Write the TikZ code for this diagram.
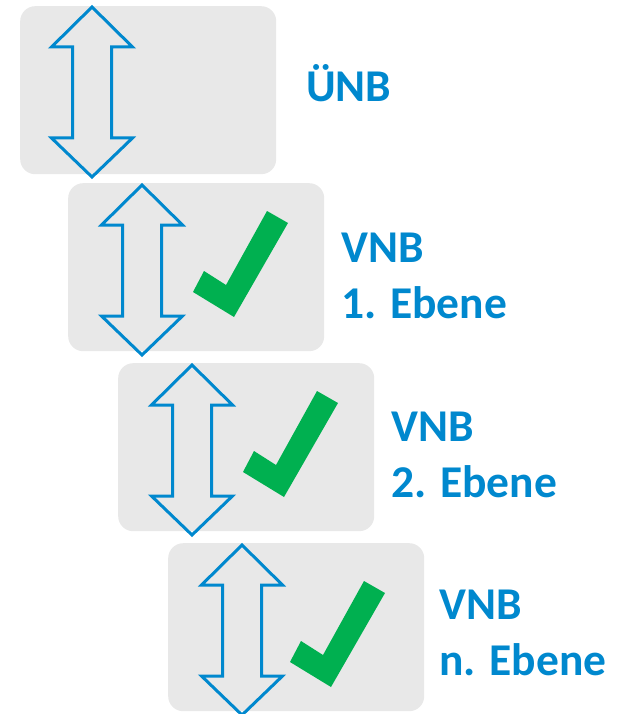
\documentclass[tikz,border=0pt]{standalone}
\usepackage{fontspec}
\setmainfont{Carlito}
\definecolor{netblue}{RGB}{0,136,206}
\definecolor{tickgreen}{RGB}{0,176,80}
\definecolor{boxgray}{RGB}{232,232,232}
\tikzset{
  stagebox/.style={fill=boxgray, draw=none, rounded corners=15pt,
    minimum width=256pt, minimum height=168pt, inner sep=0pt, anchor=north west},
  label/.style={text=netblue, font=\fontsize{45.5}{54}\selectfont\bfseries,
    inner sep=0pt, anchor=base west},
  % hollow double-headed arrow, origin = upper tip
  updown/.pic={
    \draw[netblue, line width=3pt, line join=miter]
      (0,0) -- (40.5,40) -- (19.5,40) -- (19.5,131) -- (40.5,131) -- (0,170)
      -- (-40.5,131) -- (-19.5,131) -- (-19.5,40) -- (-40.5,40) -- cycle;
  },
  % green check mark, origin = north west corner of its box
  tick/.pic={
    \fill[tickgreen]
      (125,109) -- (136,88) -- (158,102) -- (199,28) -- (220,40) -- (166,134) -- cycle;
  }
}
\begin{document}
\begin{tikzpicture}[x=1pt,y=-1pt]
\useasboundingbox (0,0) rectangle (621,714);

% stage 1: transmission system operator
\node[stagebox] (b1) at (20,6) {};
\pic at (92,7) {updown};
\node[label] (t1) at (306,102) {ÜNB};

% stage 2
\node[stagebox] (b2) at (68,183) {};
\pic at (142,185) {updown};
\pic at (b2.north west) {tick};
\node[label] (t2a) at (341,262) {VNB};
\node[label] (t2b) at (341,318) {1. Ebene};

% stage 3
\node[stagebox] (b3) at (118,363) {};
\pic at (192,365) {updown};
\pic at (b3.north west) {tick};
\node[label] (t3a) at (391,441) {VNB};
\node[label] (t3b) at (391,497) {2. Ebene};

% stage n
\node[stagebox] (b4) at (168,543) {};
\pic at (242,545) {updown};
\pic at ([shift={(-3,10)}]b4.north west) {tick};
\node[label] (t4a) at (439,619) {VNB};
\node[label] (t4b) at (439,675) {n. Ebene};
\end{tikzpicture}
\end{document}
